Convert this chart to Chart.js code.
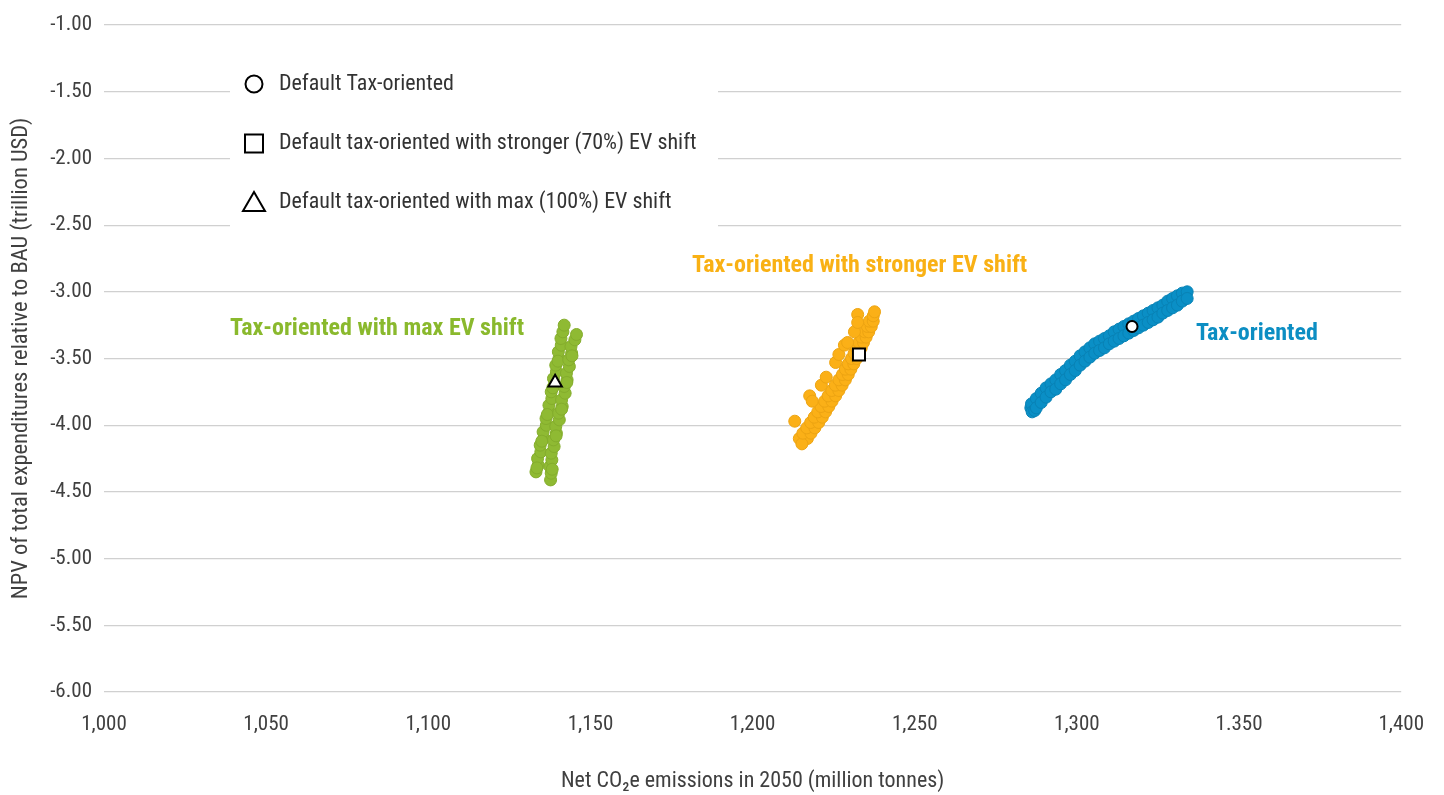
<!DOCTYPE html>
<html>
<head>
<meta charset="utf-8">
<script src="https://cdn.jsdelivr.net/npm/chart.js@4.4.1/dist/chart.umd.min.js"></script>
<style>
html,body{margin:0;padding:0;background:#fff;}
canvas{display:block;}
</style>
</head>
<body>
<canvas id="c" width="1444" height="795"></canvas>
<script>
// ---------- DATA ----------
const xTickLabels = ['1,000','1,050','1,100','1,150','1,200','1,250','1,300','1.350','1,400'];
const yTickLabels = ['-1.00','-1.50','-2.00','-2.50','-3.00','-3.50','-4.00','-4.50','-5.00','-5.50','-6.00'];

const seriesNames = ['Tax-oriented', 'Tax-oriented with stronger EV shift', 'Tax-oriented with max EV shift'];
const defaultNames = ['Default Tax-oriented', 'Default tax-oriented with stronger (70%) EV shift', 'Default tax-oriented with max (100%) EV shift'];

// Tax-oriented runs (x = Net CO2e 2050, y = NPV)
const taxPoints = [
 [1285.8,-3.87],[1286.0,-3.84],[1286.2,-3.90],[1287.0,-3.89],[1287.5,-3.80],[1287.5,-3.87],[1289.0,-3.76],[1289.0,-3.83],
 [1290.5,-3.72],[1290.5,-3.79],[1292.0,-3.69],[1292.0,-3.75],[1293.5,-3.66],[1293.5,-3.73],[1295.0,-3.62],
 [1295.0,-3.69],[1296.5,-3.59],[1296.5,-3.66],[1298.0,-3.55],[1298.0,-3.62],[1299.5,-3.52],[1299.5,-3.59],
 [1301.0,-3.48],[1301.0,-3.55],[1302.5,-3.45],[1302.5,-3.52],[1304.0,-3.42],[1304.0,-3.49],[1305.5,-3.39],
 [1305.5,-3.46],[1307.0,-3.37],[1307.0,-3.44],[1308.5,-3.35],[1308.5,-3.42],[1310.0,-3.33],[1310.0,-3.39],
 [1311.5,-3.30],[1311.5,-3.37],[1313.0,-3.28],[1313.0,-3.35],[1314.5,-3.26],[1314.5,-3.33],[1316.0,-3.24],
 [1316.0,-3.31],[1317.5,-3.22],[1317.5,-3.29],[1319.0,-3.20],[1319.0,-3.27],[1320.5,-3.18],[1320.5,-3.25],
 [1322.0,-3.16],[1322.0,-3.23],[1323.5,-3.14],[1323.5,-3.21],[1325.0,-3.12],[1325.0,-3.19],[1326.5,-3.10],
 [1326.5,-3.16],[1328.0,-3.07],[1328.0,-3.14],[1329.5,-3.05],[1329.5,-3.12],[1331.0,-3.03],[1331.0,-3.10],
 [1332.5,-3.01],[1332.5,-3.07],[1334.0,-3.00],[1334.0,-3.05]
];

// Tax-oriented with stronger EV shift runs
const strongerPoints = [
 [1214.4,-4.10],[1216.9,-4.10],[1215.2,-4.14],[1215.5,-4.06],[1218.0,-4.06],[1216.7,-4.02],[1219.2,-4.02],
 [1217.9,-3.98],[1220.4,-3.98],[1219.0,-3.94],[1221.5,-3.94],[1220.1,-3.90],[1222.5,-3.90],[1221.1,-3.86],
 [1223.5,-3.86],[1222.2,-3.82],[1224.5,-3.82],[1223.3,-3.78],[1225.6,-3.78],[1224.4,-3.74],[1226.6,-3.74],
 [1225.5,-3.70],[1227.6,-3.70],[1226.6,-3.66],[1228.6,-3.66],[1227.7,-3.62],[1229.5,-3.62],[1228.6,-3.58],
 [1230.3,-3.58],[1229.5,-3.54],[1231.2,-3.54],[1230.5,-3.50],[1232.1,-3.50],[1231.3,-3.46],[1232.9,-3.46],
 [1232.0,-3.42],[1233.5,-3.42],[1232.8,-3.38],[1234.2,-3.38],[1233.6,-3.34],[1235.0,-3.34],[1234.6,-3.30],
 [1235.8,-3.30],[1235.4,-3.26],[1236.6,-3.26],[1236.0,-3.22],[1237.2,-3.22],[1237.2,-3.18],[1237.6,-3.15],
 [1213.0,-3.97],[1217.6,-3.78],[1218.4,-3.82],[1221.2,-3.70],[1222.7,-3.64],[1225.6,-3.53],[1226.6,-3.47],
 [1228.3,-3.40],[1229.3,-3.38],[1231.4,-3.30],[1232.4,-3.17],[1232.4,-3.23]
];

// Tax-oriented with max EV shift runs (two strands)
const maxPoints = [
 [1133.2,-4.35],[1133.9,-4.30],[1133.7,-4.25],[1134.7,-4.20],[1134.5,-4.15],[1135.6,-4.10],[1135.4,-4.05],
 [1136.4,-4.00],[1136.3,-3.95],[1137.3,-3.90],[1137.2,-3.85],[1138.1,-3.80],[1137.9,-3.75],[1138.8,-3.70],
 [1138.6,-3.65],[1139.5,-3.60],[1139.3,-3.55],[1140.3,-3.50],[1140.1,-3.45],[1141.0,-3.40],[1140.9,-3.35],
 [1141.5,-3.30],[1141.9,-3.25],[1133.5,-4.32],[1135.0,-4.12],[1136.7,-3.92],[1138.4,-3.72],[1140.0,-3.52],
 [1137.7,-4.41],[1137.9,-4.36],[1137.5,-4.31],[1138.1,-4.26],[1137.9,-4.21],[1138.8,-4.16],[1138.6,-4.11],
 [1139.5,-4.06],[1139.3,-4.01],[1140.4,-3.96],[1140.2,-3.91],[1141.3,-3.86],[1141.1,-3.81],[1142.2,-3.76],
 [1141.9,-3.71],[1142.8,-3.66],[1142.6,-3.61],[1143.5,-3.56],[1143.3,-3.51],[1144.2,-3.46],[1144.0,-3.41],
 [1145.2,-3.36],[1145.7,-3.32],[1138.2,-4.33],[1139.4,-4.08],[1141.1,-3.88],[1142.7,-3.68],[1144.3,-3.48]
];

// Default scenario points
const defaultTax = [[1317.0,-3.26]];
const defaultStronger = [[1232.8,-3.47]];
const defaultMax = [[1139.1,-3.68]];

// ---------- CHART ----------
const FONT = "'Liberation Sans Narrow','Roboto Condensed','Arial Narrow',Roboto,sans-serif";
const TEXT = '#404040';
const BLUE = '#0a8fc6', ORANGE = '#fbb017', GREEN = '#8fba33';

const toXY = arr => arr.map(p => ({x: p[0], y: p[1]}));

const cloud = (label, pts, color, border) => ({
  label, data: toXY(pts), backgroundColor: color, borderColor: border,
  borderWidth: 1, pointRadius: 6, pointHoverRadius: 6, order: 2, isCloud: true
});
const marker = (label, pts, style, r) => ({
  label, data: toXY(pts), pointStyle: style, backgroundColor: '#ffffff', borderColor: '#000000',
  borderWidth: 2, pointRadius: r, pointHoverRadius: r, order: 0, isDefault: true
});

const annotationPlugin = {
  id: 'seriesLabels',
  afterDatasetsDraw(chart, args, opts) {
    const {ctx, scales: {x, y}} = chart;
    ctx.save();
    ctx.font = 'bold 24px ' + FONT;
    ctx.textAlign = 'center';
    ctx.textBaseline = 'middle';
    opts.items.forEach(it => {
      ctx.fillStyle = it.color;
      ctx.fillText(it.text, x.getPixelForValue(it.x), y.getPixelForValue(it.y));
    });
    ctx.restore();
  }
};

const boxLegendPlugin = {
  id: 'boxLegend',
  afterDraw(chart, args, opts) {
    const ctx = chart.ctx;
    ctx.save();
    ctx.fillStyle = '#ffffff';
    ctx.fillRect(opts.left, opts.top, opts.width, opts.height);
    const items = chart.data.datasets.filter(d => d.isDefault);
    items.forEach((d, i) => {
      const cx = opts.markerX, cy = opts.rows[i];
      ctx.strokeStyle = '#000';
      ctx.lineWidth = 2;
      ctx.fillStyle = '#fff';
      ctx.beginPath();
      if (d.pointStyle === 'circle') {
        ctx.arc(cx, cy, 8.5, 0, Math.PI * 2);
      } else if (d.pointStyle === 'rect') {
        ctx.rect(cx - 9, cy - 9, 18, 18);
      } else {
        ctx.moveTo(cx, cy - 10);
        ctx.lineTo(cx + 11, cy + 9);
        ctx.lineTo(cx - 11, cy + 9);
        ctx.closePath();
      }
      ctx.fill();
      ctx.stroke();
      ctx.fillStyle = '#333333';
      ctx.font = '22px ' + FONT;
      ctx.textAlign = 'left';
      ctx.textBaseline = 'middle';
      ctx.fillText(d.label, opts.textX, cy);
    });
    ctx.restore();
  }
};

new Chart(document.getElementById('c'), {
  type: 'scatter',
  data: {
    datasets: [
      marker(defaultNames[0], defaultTax, 'circle', 5.5),
      marker(defaultNames[1], defaultStronger, 'rect', 8.5),
      marker(defaultNames[2], defaultMax, 'triangle', 7.8),
      cloud(seriesNames[0], taxPoints, BLUE, '#0882b5'),
      cloud(seriesNames[1], strongerPoints, ORANGE, '#eda412'),
      cloud(seriesNames[2], maxPoints, GREEN, '#84ad2c')
    ]
  },
  options: {
    responsive: false,
    animation: false,
    devicePixelRatio: 1,
    layout: { padding: { top: 25, right: 29, left: 0, bottom: 0 } },
    plugins: {
      legend: { display: false },
      tooltip: { enabled: false },
      seriesLabels: {
        items: [
          { text: seriesNames[0], color: '#0c8ec3', x: 1355.5, y: -3.315 },
          { text: seriesNames[1], color: '#f9b115', x: 1233.0, y: -2.81 },
          { text: seriesNames[2], color: '#8ab92d', x: 1084.2, y: -3.277 }
        ]
      },
      boxLegend: { left: 230, top: 50, width: 488, height: 179, markerX: 254, textX: 279, rows: [84, 143.5, 202] }
    },
    scales: {
      x: {
        type: 'linear', min: 1000, max: 1400,
        afterFit: s => { s.height = 103; },
        afterBuildTicks: s => { s.ticks = xTickLabels.map((t, i) => ({ value: 1000 + i * 50 })); },
        grid: { display: false, drawTicks: false },
        border: { display: false },
        ticks: {
          padding: 20, color: TEXT, font: { family: FONT, size: 21 },
          maxRotation: 0, autoSkip: false,
          callback: (v, i) => xTickLabels[i]
        },
        title: {
          display: true, text: 'Net CO₂e emissions in 2050 (million tonnes)',
          color: TEXT, font: { family: FONT, size: 22 }, padding: { top: 0, bottom: 0 }
        }
      },
      y: {
        type: 'linear', min: -6, max: -1,
        afterFit: s => { s.width = 104; },
        afterBuildTicks: s => { s.ticks = yTickLabels.map((t, i) => ({ value: -1 - i * 0.5 })); },
        grid: { color: '#d0d0d0', lineWidth: 1.2, drawTicks: false },
        border: { display: false },
        ticks: {
          padding: 12, color: TEXT, font: { family: FONT, size: 21 }, autoSkip: false,
          callback: (v, i) => yTickLabels[i]
        },
        title: {
          display: true, text: 'NPV of total expenditures relative to BAU (trillion USD)',
          color: TEXT, font: { family: FONT, size: 22.5 }, padding: { top: 8, bottom: 0 }
        }
      }
    }
  },
  plugins: [annotationPlugin, boxLegendPlugin]
});
</script>
</body>
</html>
